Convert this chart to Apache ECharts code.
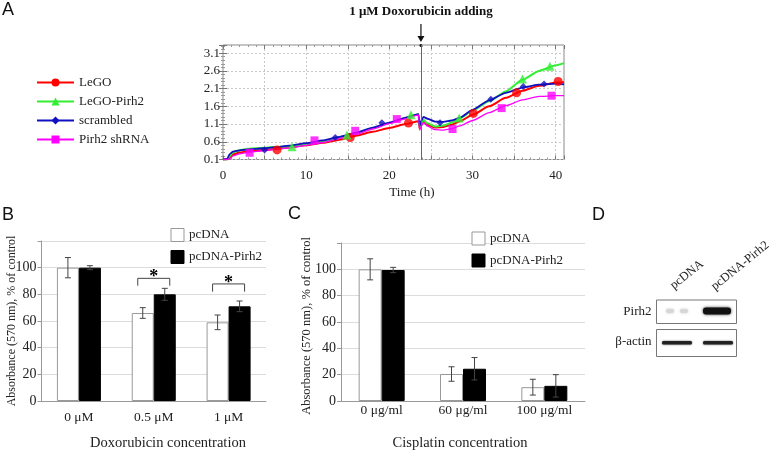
<!DOCTYPE html>
<html><head><meta charset="utf-8">
<script src="https://cdn.jsdelivr.net/npm/echarts@6/dist/echarts.min.js"></script>
<style>html,body{margin:0;padding:0;background:#fff}#c{width:780px;height:450px}</style>
</head><body><div id="c"></div>
<script>
// ---------- Panel A data ----------
const timeH = [0,0.5,0.8,1.2,2,3,4,5,6,8,10,12,14,16,18,20,22,23.5,23.65,23.8,24.1,24.6,25.5,26.5,27.5,28.5,30,32,34,36,38,40,41];
const legoCurve = [0.1,0.1,0.15,0.24,0.3,0.33,0.35,0.37,0.39,0.44,0.5,0.57,0.66,0.77,0.88,0.99,1.1,1.18,0.97,1.05,1.17,1.08,1.0,1.02,1.08,1.18,1.36,1.6,1.84,2.04,2.18,2.27,2.28];
const legoPirh2Curve = [0.1,0.1,0.2,0.3,0.36,0.4,0.42,0.43,0.45,0.47,0.53,0.61,0.71,0.83,0.98,1.13,1.28,1.38,1.0,1.1,1.22,1.12,1.03,1.06,1.14,1.26,1.48,1.74,2.02,2.35,2.6,2.76,2.82];
const scrambledCurve = [0.1,0.12,0.25,0.32,0.36,0.38,0.4,0.42,0.44,0.49,0.56,0.64,0.74,0.86,1.0,1.14,1.28,1.38,1.05,1.18,1.3,1.25,1.17,1.16,1.2,1.28,1.5,1.77,1.98,2.13,2.21,2.24,2.22];
const shrnaCurve = [0.1,0.1,0.12,0.2,0.26,0.3,0.33,0.35,0.38,0.43,0.5,0.58,0.69,0.81,0.96,1.11,1.25,1.36,0.93,1.03,1.15,1.04,0.94,0.93,0.97,1.05,1.2,1.42,1.62,1.78,1.88,1.9,1.9];
const legoMarkers = [[6.5,0.37],[15.3,0.72],[22.3,1.13],[30.1,1.40],[35.3,1.98],[40.3,2.30]];
const legoPirh2Markers = [[8.3,0.46],[14.9,0.79],[22.6,1.36],[28.4,1.27],[36.0,2.37],[39.3,2.73]];
const scrambledMarkers = [[5.0,0.37],[13.5,0.72],[19.1,1.14],[26.1,1.14],[32.2,1.80],[36.1,2.16],[38.6,2.23]];
const shrnaMarkers = [[3.2,0.29],[11.0,0.64],[15.9,0.91],[20.9,1.24],[27.6,0.96],[33.5,1.55],[39.5,1.90]];
const doxTime = 23.8;
const seriesNamesA = ['LeGO','LeGO-Pirh2','scrambled','Pirh2 shRNA'];

// ---------- Panel B data ----------
const doxCats = ['0 μM','0.5 μM','1 μM'];
const doxPc = [100, 66, 59];
const doxPcErr = [7.6, 4, 5.5];
const doxPirh = [100, 80, 71];
const doxPirhErr = [1.5, 4.5, 4];
const doxSigCat = [1, 2];
const doxSigTop = [92, 87.8];
const doxSigLeg = [86.5, 82];

// ---------- Panel C data ----------
const cisCats = ['0 μg/ml','60 μg/ml','100 μg/ml'];
const cisPc = [100, 20.5, 10.5];
const cisPcErr = [8, 5.5, 6];
const cisPirh = [99.5, 24.5, 11.5];
const cisPirhErr = [2, 8.5, 8.5];

const FONT = '"Liberation Serif", "Times New Roman", serif';
const SANS = '"Liberation Sans", Arial, sans-serif';
const chart = echarts.init(document.getElementById('c'), null, {renderer:'canvas'});

const zip = (xs, ys) => xs.map((x,i)=>[x, ys[i]]);
const colorsA = ['#ff0000','#33ee33','#1010c0','#ff00ff'];
const symbolsA = ['circle','triangle','diamond','rect'];
const symSizeA = [9,9,7,8];
const widthsA = [2,2,1.8,1.3];
const curvesA = [legoCurve, legoPirh2Curve, scrambledCurve, shrnaCurve];
const markersA = [legoMarkers, legoPirh2Markers, scrambledMarkers, shrnaMarkers];

function errRender(offset, color){
  return function(params, api){
    const i = api.value(0), lo = api.value(1), hi = api.value(2);
    const a = api.coord([i, lo]), b = api.coord([i, hi]);
    const x = a[0] + offset, cap = 3;
    const st = {stroke: color, lineWidth: 1};
    return {type:'group', children:[
      {type:'line', shape:{x1:x,y1:a[1],x2:x,y2:b[1]}, style:st},
      {type:'line', shape:{x1:x-cap,y1:a[1],x2:x+cap,y2:a[1]}, style:st},
      {type:'line', shape:{x1:x-cap,y1:b[1],x2:x+cap,y2:b[1]}, style:st}
    ]};
  };
}
function bracketRender(half){
  return function(params, api){
    const i = api.value(0);
    const t = api.coord([i, api.value(1)]), l = api.coord([i, api.value(2)]);
    return {type:'group', children:[
      {type:'polyline', shape:{points:[[t[0]-half,l[1]],[t[0]-half,t[1]],[t[0]+half,t[1]],[t[0]+half,l[1]]]}, style:{stroke:'#444', lineWidth:1, fill:null}},
      {type:'text', x:t[0], y:t[1]+8, style:{text:'*', font:'bold 18px '+FONT, fill:'#000', align:'center', verticalAlign:'bottom'}}
    ]};
  };
}

const series = [];
curvesA.forEach((c, k) => {
  const s = {
    name: seriesNamesA[k], type:'line', xAxisIndex:0, yAxisIndex:0,
    data: zip(timeH, c), smooth: 0.2, smoothMonotone:'x', showSymbol:false, symbol: symbolsA[k], symbolSize: symSizeA[k],
    color: colorsA[k], lineStyle:{width: widthsA[k], color: colorsA[k]}, z: 3
  };
  if (k === 0) {
    s.markLine = {silent:true, symbol:['none','none'], label:{show:false},
      lineStyle:{color:'#666', width:1, type:'solid'}, data:[{xAxis: doxTime}]};
  }
  series.push(s);
});
markersA.forEach((m, k) => {
  series.push({name: seriesNamesA[k], type:'scatter', xAxisIndex:0, yAxisIndex:0, data: m,
    symbol: symbolsA[k], symbolSize: symSizeA[k], itemStyle:{color: colorsA[k]}, z: 4});
});
// Panel B
const BW_B = 22, BW_C = 23;
series.push({name:'pcDNA', type:'bar', xAxisIndex:2, yAxisIndex:2, data: doxPc, barWidth: BW_B, barGap:'0%',
  itemStyle:{color:'#fff', borderColor:'#999', borderWidth:1}});
series.push({name:'pcDNA-Pirh2', type:'bar', xAxisIndex:2, yAxisIndex:2, data: doxPirh, barWidth: BW_B, barGap:'0%',
  itemStyle:{color:'#000', borderColor:'#000', borderWidth:1}});
series.push({type:'custom', xAxisIndex:2, yAxisIndex:2, z:5, renderItem: errRender(-BW_B/2, '#444'),
  encode:{x:0, y:[1,2]}, data: doxPc.map((v,i)=>[i, v-doxPcErr[i], v+doxPcErr[i]])});
series.push({type:'custom', xAxisIndex:2, yAxisIndex:2, z:5, renderItem: errRender(BW_B/2, '#444'),
  encode:{x:0, y:[1,2]}, data: doxPirh.map((v,i)=>[i, v-doxPirhErr[i], v+doxPirhErr[i]])});
series.push({type:'custom', xAxisIndex:2, yAxisIndex:2, z:5, renderItem: bracketRender(16),
  encode:{x:0, y:[1,2]}, data: doxSigCat.map((c,i)=>[c, doxSigTop[i], doxSigLeg[i]])});
// Panel C
series.push({name:'pcDNA', type:'bar', xAxisIndex:3, yAxisIndex:3, data: cisPc, barWidth: BW_C, barGap:'0%',
  itemStyle:{color:'#fff', borderColor:'#999', borderWidth:1}});
series.push({name:'pcDNA-Pirh2', type:'bar', xAxisIndex:3, yAxisIndex:3, data: cisPirh, barWidth: BW_C, barGap:'0%',
  itemStyle:{color:'#000', borderColor:'#000', borderWidth:1}});
series.push({type:'custom', xAxisIndex:3, yAxisIndex:3, z:5, renderItem: errRender(-BW_C/2, '#444'),
  encode:{x:0, y:[1,2]}, data: cisPc.map((v,i)=>[i, v-cisPcErr[i], v+cisPcErr[i]])});
series.push({type:'custom', xAxisIndex:3, yAxisIndex:3, z:5, renderItem: errRender(BW_C/2, '#444'),
  encode:{x:0, y:[1,2]}, data: cisPirh.map((v,i)=>[i, v-cisPirhErr[i], v+cisPirhErr[i]])});

const lbl = {fontFamily: FONT, color:'#222'};
const barY = (extra) => Object.assign({
  type:'value', min:0, max:120, interval:20,
  axisLine:{show:true, lineStyle:{color:'#999'}},
  axisTick:{show:true, length:4, lineStyle:{color:'#999'}},
  splitLine:{show:true, lineStyle:{color:'#dcdcdc'}},
  axisLabel:{fontFamily:FONT, fontSize:14, color:'#222', margin:5, formatter: v => v===120 ? '' : v}
}, extra);
const barX = (cats, idx, margin) => ({
  type:'category', gridIndex: idx, data: cats,
  axisLine:{show:true, lineStyle:{color:'#999'}}, axisTick:{show:false},
  axisLabel:{fontFamily:FONT, fontSize:13.5, color:'#222', margin: margin}
});

const option = {
  animation:false,
  backgroundColor:'#fff',
  grid:[
    {left:223, right:216, top:45, bottom:290.5, show:true, borderColor:'#888', borderWidth:1, backgroundColor:'transparent'},
    {left:41.5, right:514, top:241, bottom:49},
    {left:341, right:195, top:243, bottom:49}
  ],
  xAxis:[
    {type:'value', gridIndex:0, min:0, max:41, interval:5,
      axisLine:{show:false}, axisTick:{show:true, inside:true, length:4, lineStyle:{color:'#777'}},
      minorTick:{show:true, splitNumber:5, length:2, lineStyle:{color:'#999'}},
      splitLine:{show:true, lineStyle:{color:'#c8c8c8', type:[2,2]}},
      axisLabel:Object.assign({fontSize:13, margin:10, showMaxLabel:false, formatter: v => v%10===0 ? v : ''}, lbl)},
    {type:'value', gridIndex:0, position:'top', min:0, max:41, interval:5,
      axisLine:{show:false}, axisTick:{show:true, inside:true, length:4, lineStyle:{color:'#777'}},
      minorTick:{show:true, splitNumber:5, length:2, lineStyle:{color:'#999'}},
      splitLine:{show:false}, axisLabel:{show:false}},
    barX(doxCats, 1, 9),
    barX(cisCats, 2, 2)
  ],
  yAxis:[
    {type:'value', gridIndex:0, min:0.1, max:3.33, interval:0.5,
      axisLine:{show:false}, axisTick:{show:true, inside:true, length:4, lineStyle:{color:'#777'}},
      minorTick:{show:true, splitNumber:5, length:2, lineStyle:{color:'#999'}},
      splitLine:{show:true, lineStyle:{color:'#c8c8c8', type:[2,2]}},
      axisLabel:Object.assign({fontSize:13, margin:3, showMaxLabel:false, formatter: v => v.toFixed(1)}, lbl)},
    {type:'value', gridIndex:0, position:'right', min:0.1, max:3.33, interval:0.5,
      axisLine:{show:false}, axisTick:{show:true, inside:true, length:4, lineStyle:{color:'#777'}},
      minorTick:{show:true, splitNumber:5, length:2, lineStyle:{color:'#999'}},
      splitLine:{show:false}, axisLabel:{show:false}},
    barY({gridIndex:1}),
    barY({gridIndex:2})
  ],
  legend:[
    {data: seriesNamesA, orient:'vertical', left:31, top:71, itemWidth:37, itemHeight:10, itemGap:6,
      textStyle:{fontFamily:FONT, fontSize:13, color:'#222'}, selectedMode:false},
    {data:['pcDNA','pcDNA-Pirh2'], orient:'vertical', left:165.5, top:223, itemWidth:13, itemHeight:13, itemGap:8,
      icon:'rect', itemStyle:{borderWidth:1}, textStyle:{fontFamily:FONT, fontSize:13, color:'#222'}, selectedMode:false},
    {data:['pcDNA','pcDNA-Pirh2'], orient:'vertical', left:466.5, top:226.5, itemWidth:13, itemHeight:13, itemGap:8,
      icon:'rect', itemStyle:{borderWidth:1}, textStyle:{fontFamily:FONT, fontSize:13, color:'#222'}, selectedMode:false}
  ],
  series: series
};
chart.setOption(option);

// annotations / labels
const px = chart.convertToPixel({xAxisIndex:0}, doxTime);
const g = [];
g.push({type:'text', left:2, top:1, style:{text:'A', font:'18px '+SANS, fill:'#111'}});
g.push({type:'text', left:2, top:206, style:{text:'B', font:'18px '+SANS, fill:'#111'}});
g.push({type:'text', left:288, top:205, style:{text:'C', font:'18px '+SANS, fill:'#111'}});
g.push({type:'text', left:592, top:206, style:{text:'D', font:'18px '+SANS, fill:'#111'}});
g.push({type:'text', x:px, y:12, style:{text:'1 μM Doxorubicin adding', font:'bold 13px '+FONT, fill:'#111', align:'center', verticalAlign:'middle'}});
g.push({type:'line', shape:{x1:px, y1:24, x2:px, y2:40}, style:{stroke:'#111', lineWidth:1.2}});
g.push({type:'polygon', shape:{points:[[px-3.5,36],[px+3.5,36],[px,42]]}, style:{fill:'#111'}});
g.push({type:'circle', shape:{cx:px, cy:45.5, r:1.5}, style:{fill:'#111'}});
g.push({type:'text', x:412, y:193, style:{text:'Time (h)', font:'13px '+FONT, fill:'#222', align:'center', verticalAlign:'middle'}});
g.push({type:'text', x:168, y:443, style:{text:'Doxorubicin concentration', font:'14.5px '+FONT, fill:'#222', align:'center', verticalAlign:'middle'}});
g.push({type:'text', x:460, y:443, style:{text:'Cisplatin concentration', font:'14.5px '+FONT, fill:'#222', align:'center', verticalAlign:'middle'}});
g.push({type:'text', x:12, y:321, rotation:Math.PI/2, style:{text:'Absorbance (570 nm), % of control', font:'12px '+FONT, fill:'#222', align:'center', verticalAlign:'middle'}});
g.push({type:'text', x:307, y:326, rotation:Math.PI/2, style:{text:'Absorbance (570 nm), % of control', font:'12.5px '+FONT, fill:'#222', align:'center', verticalAlign:'middle'}});
// Panel D (western blot illustration)
g.push({type:'rect', shape:{x:656.5, y:300, width:80, height:23.5}, style:{fill:'#fff', stroke:'#777', lineWidth:1}});
g.push({type:'rect', shape:{x:656.5, y:329.5, width:80, height:27}, style:{fill:'#fff', stroke:'#777', lineWidth:1}});
g.push({type:'rect', shape:{x:666, y:309, width:8, height:4, r:2}, style:{fill:'#d6d6d6', shadowBlur:3, shadowColor:'#ccc'}});
g.push({type:'rect', shape:{x:680, y:309, width:8, height:4, r:2}, style:{fill:'#d6d6d6', shadowBlur:3, shadowColor:'#ccc'}});
g.push({type:'rect', shape:{x:703, y:307.5, width:28, height:7, r:3}, style:{fill:'#111', shadowBlur:3, shadowColor:'#333'}});
g.push({type:'rect', shape:{x:662, y:341, width:30, height:3.5, r:1.5}, style:{fill:'#222', shadowBlur:2, shadowColor:'#555'}});
g.push({type:'rect', shape:{x:703, y:341, width:30, height:3.5, r:1.5}, style:{fill:'#222', shadowBlur:2, shadowColor:'#555'}});
g.push({type:'text', x:651.5, y:312, style:{text:'Pirh2', font:'13px '+FONT, fill:'#222', align:'right', verticalAlign:'middle'}});
g.push({type:'text', x:651.5, y:342, style:{text:'β-actin', font:'13px '+FONT, fill:'#222', align:'right', verticalAlign:'middle'}});
g.push({type:'text', x:676, y:292, rotation:0.68, style:{text:'pcDNA', font:'12.5px '+FONT, fill:'#222', align:'left', verticalAlign:'bottom'}});
g.push({type:'text', x:717, y:293, rotation:0.68, style:{text:'pcDNA-Pirh2', font:'12.5px '+FONT, fill:'#222', align:'left', verticalAlign:'bottom'}});
chart.setOption({graphic: g});
</script>
</body></html>
